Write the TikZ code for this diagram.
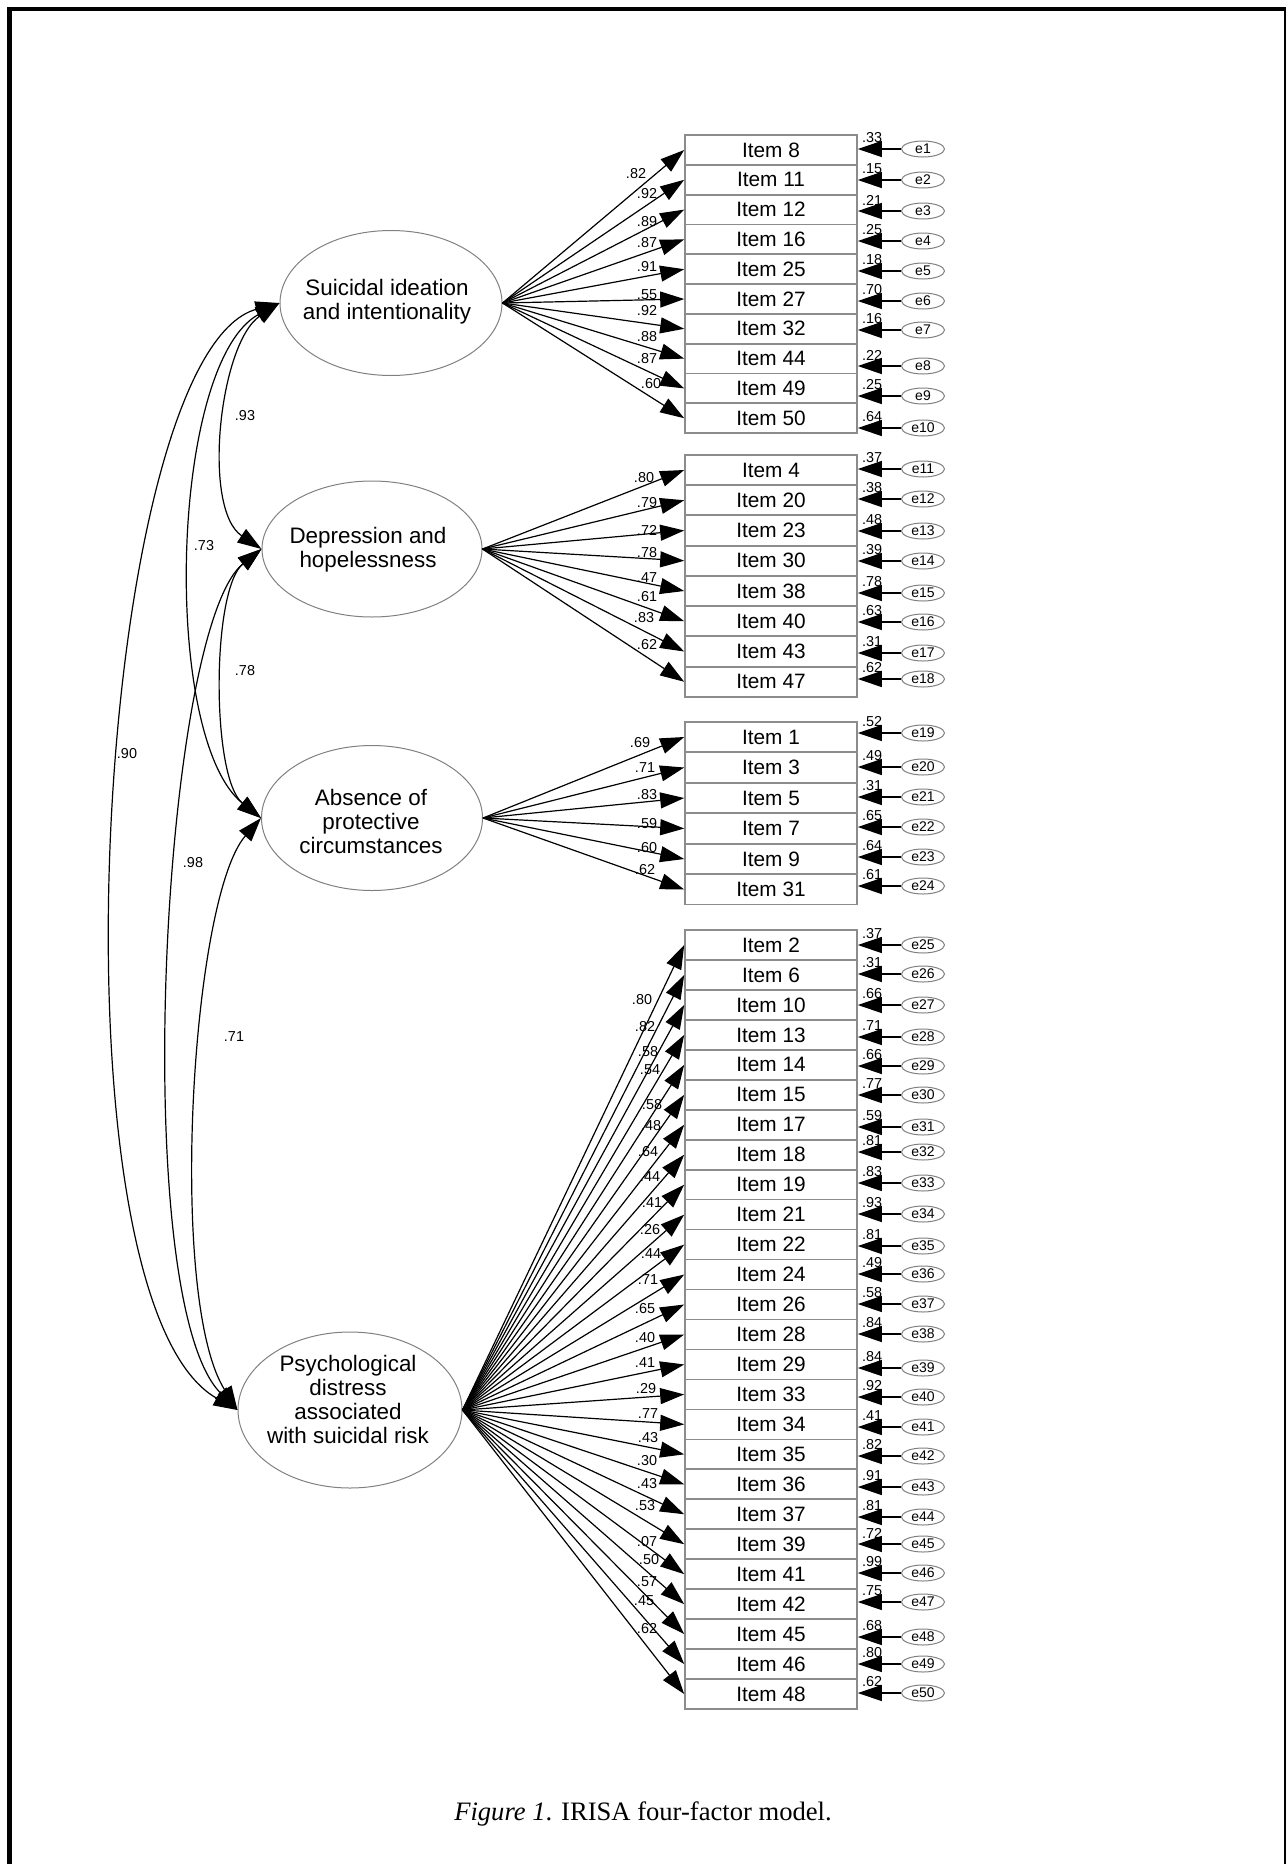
\documentclass[tikz,border=0pt]{standalone}
\usepackage{fontspec}
\setmainfont{Liberation Sans}
\newfontfamily\capfont{Liberation Serif}
\usetikzlibrary{arrows.meta,shapes.geometric}
\begin{document}
\begin{tikzpicture}[x=0.5pt,y=-0.5pt,
  item/.style={draw=black!45, line width=0.8pt, minimum width=86pt, minimum height=15pt, inner sep=0pt, font=\fontsize{10.4}{12}\selectfont},
  factor/.style={ellipse, draw=black!50, line width=0.5pt, inner sep=0pt},
  ftext/.style={align=center, font=\fontsize{11.2}{12}\selectfont, inner sep=0pt},
  err/.style={ellipse, draw=black!50, line width=0.5pt, minimum width=21.5pt, minimum height=8pt, inner sep=0pt, font=\fontsize{7}{8}\selectfont},
  lbl/.style={inner sep=0pt, font=\fontsize{7.2}{8}\selectfont},
  load/.style={line width=0.6pt, -{Triangle[length=12pt,width=8pt]}},
  cov/.style={line width=0.6pt, {Triangle[length=12pt,width=8pt]}-{Triangle[length=12pt,width=8pt]}},
]
\useasboundingbox (0,0) rectangle (1288,1864);
% frame
\draw[line width=2.2pt] (7,9) -- (1286,9);
\draw[line width=2.5pt] (9.5,7) -- (9.5,1864);
\draw[line width=1pt] (1285,8) -- (1285,1864);

% factors
\node[factor, minimum width=111pt, minimum height=72.5pt] (f1) at (391,303) {};
\node[ftext] (t1) at (387,302) {Suicidal ideation\\and intentionality};
\node[factor, minimum width=110pt, minimum height=68pt] (f2) at (372,549) {};
\node[ftext] (t2) at (368,550) {Depression and\\hopelessness};
\node[factor, minimum width=110.5pt, minimum height=72.5pt] (f3) at (372,818) {};
\node[ftext] (t3) at (371,821) {Absence of\\protective\\circumstances};
\node[factor, minimum width=112pt, minimum height=78pt] (f4) at (350,1410) {};
\node[ftext] (t4) at (348,1399) {Psychological\\distress\\associated\\with suicidal risk};

% covariances
\draw[cov] (f1.west) .. controls +(-60,40) and +(-60,-40) .. (f2.west);
\draw[cov] (f1.west) .. controls +(-110,60) and +(-100,-80) .. (f3.west);
\draw[cov] (f1.west) .. controls +(-185,50) and +(-195,-110) .. (f4.west);
\draw[cov] (f2.west) .. controls +(-50,40) and +(-50,-40) .. (f3.west);
\draw[cov] (f2.west) .. controls +(-100,80) and +(-110,-110) .. (f4.west);
\draw[cov] (f3.west) .. controls +(-70,80) and +(-70,-110) .. (f4.west);
\node[lbl] (c12) at (245,416) {.93};
\node[lbl] (c13) at (204,546) {.73};
\node[lbl] (c14) at (127,754) {.90};
\node[lbl] (c23) at (245,671) {.78};
\node[lbl] (c24) at (193,863) {.98};
\node[lbl] (c34) at (234,1037) {.71};

% group 1
\foreach \itm/\lod/\res/\enm/\eyy/\lxx/\lyy [count=\k from 0] in {
 8/.82/.33/1/149/636/174, 11/.92/.15/2/180/647/194, 12/.89/.21/3/211/647/222,
 16/.87/.25/4/241/647/243, 25/.91/.18/5/271/647/267, 27/.55/.70/6/301/647/295,
 32/.92/.16/7/330/647/311, 44/.88/.22/8/366/647/337, 49/.87/.25/9/396/647/359,
 50/.60/.64/10/428/651/384}
{
 \node[item] (i\itm) at (771,{150+29.8*\k}) {Item \itm};
 \draw[load] (f1.east) -- (i\itm.west);
 \node[lbl] (l\itm) at (\lxx,\lyy) {\lod};
 \node[err] (e\enm) at (923,\eyy) {e\enm};
 \draw[load] (e\enm.west) -- (e\enm.west -| i\itm.east);
 \node[lbl] (r\enm) at (872,{\eyy-11}) {\res};
}

% group 2
\foreach \itm/\lod/\res/\enm/\eyy/\lxx/\lyy [count=\k from 0] in {
 4/.80/.37/11/469/644/478, 20/.79/.38/12/499/647/503, 23/.72/.48/13/531/647/530,
 30/.78/.39/14/561/647/553, 38/.47/.78/15/593/647/578, 40/.61/.63/16/622/647/597,
 43/.83/.31/17/653/644/618, 47/.62/.62/18/679/647/645}
{
 \node[item] (i\itm) at (771,{470+30.25*\k}) {Item \itm};
 \draw[load] (f2.east) -- (i\itm.west);
 \node[lbl] (l\itm) at (\lxx,\lyy) {\lod};
 \node[err] (e\enm) at (923,\eyy) {e\enm};
 \draw[load] (e\enm.west) -- (e\enm.west -| i\itm.east);
 \node[lbl] (r\enm) at (872,{\eyy-11}) {\res};
}

% group 3
\foreach \itm/\lod/\res/\enm/\eyy/\lxx/\lyy [count=\k from 0] in {
 1/.69/.52/19/733/640/743, 3/.71/.49/20/767/645/768, 5/.83/.31/21/797/647/795,
 7/.59/.65/22/827/647/824, 9/.60/.64/23/857/647/848, 31/.62/.61/24/886/645/870}
{
 \node[item] (i\itm) at (771,{737+30.5*\k}) {Item \itm};
 \draw[load] (f3.east) -- (i\itm.west);
 \node[lbl] (l\itm) at (\lxx,\lyy) {\lod};
 \node[err] (e\enm) at (923,\eyy) {e\enm};
 \draw[load] (e\enm.west) -- (e\enm.west -| i\itm.east);
 \node[lbl] (r\enm) at (872,{\eyy-11}) {\res};
}

% group 4
\foreach \itm/\lod/\res/\enm/\eyy/\lxx/\lyy [count=\k from 0] in {
 2/.80/.37/25/945/642/1000, 6/.82/.31/26/974/645/1027, 10/.58/.66/27/1005/648/1052,
 13/.54/.71/28/1037/650/1070, 14/.58/.66/29/1066/652/1105, 15/.48/.77/30/1095/651/1126,
 17/.64/.59/31/1127/648/1152, 18/.44/.81/32/1152/650/1177, 19/.41/.83/33/1183/652/1203,
 21/.26/.93/34/1214/650/1230, 22/.44/.81/35/1246/651/1254, 24/.71/.49/36/1274/648/1280,
 26/.65/.58/37/1304/645/1309, 28/.40/.84/38/1334/645/1338, 29/.41/.84/39/1368/645/1363,
 33/.29/.92/40/1397/646/1389, 34/.77/.41/41/1427/648/1414, 35/.43/.82/42/1456/648/1438,
 36/.30/.91/43/1487/647/1461, 37/.43/.81/44/1517/647/1484, 39/.53/.72/45/1544/645/1506,
 41/.07/.99/46/1573/647/1542, 42/.50/.75/47/1602/649/1560, 45/.57/.68/48/1637/647/1582,
 46/.45/.80/49/1664/644/1601, 48/.62/.62/50/1693/647/1629}
{
 \node[item] (i\itm) at (771,{945+29.96*\k}) {Item \itm};
 \draw[load] (f4.east) -- (i\itm.west);
 \node[lbl] (l\itm) at (\lxx,\lyy) {\lod};
 \node[err] (e\enm) at (923,\eyy) {e\enm};
 \draw[load] (e\enm.west) -- (e\enm.west -| i\itm.east);
 \node[lbl] (r\enm) at (872,{\eyy-11}) {\res};
}

% caption
\node[inner sep=0pt, font=\capfont\fontsize{13.3}{16}\selectfont] (cap) at (643,1814) {\textit{Figure 1}. IRISA four-factor model.};
\end{tikzpicture}
\end{document}
